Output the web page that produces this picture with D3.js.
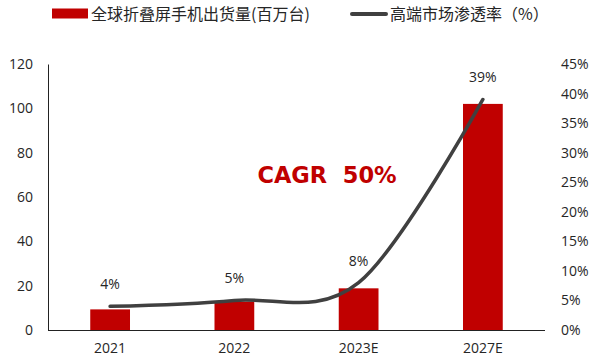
<!DOCTYPE html>
<html><head><meta charset="utf-8">
<script src="https://cdn.jsdelivr.net/npm/d3@7/dist/d3.min.js"></script>
<style>body{margin:0;background:#fff}svg{display:block}</style>
</head><body>
<svg id="c" width="595" height="361"></svg>
<script>
const categories = ["2021", "2022", "2023E", "2027E"];
const shipments = [9.3, 12.8, 18.8, 102];
const penetration = [4, 5, 8, 39];
const penetrationLabels = ["4%", "5%", "8%", "39%"];
const leftTicks = [0, 20, 40, 60, 80, 100, 120];
const rightTicks = [0, 5, 10, 15, 20, 25, 30, 35, 40, 45];
const legendBar = "全球折叠屏手机出货量(百万台)";
const legendLine = "高端市场渗透率（%）";
const annotation = "CAGR  50%";

const svg = d3.select("#c");
const L = 48, R = 545, T = 64, B = 330;
const numFont = "'Open Sans', sans-serif";
const cjkFont = "'Noto Sans CJK SC', sans-serif";
const red = "#C00000", gray = "#404040", txt = "#262626";
const fs = 14;

const x = d3.scaleBand().domain(categories).range([L, R]).paddingInner(0.68).paddingOuter(0.34);
const y = d3.scaleLinear().domain([0, 120]).range([B, T]);
const y2 = d3.scaleLinear().domain([0, 45]).range([B, T]);

// bars
svg.selectAll("rect.bar").data(categories).enter().append("rect")
  .attr("x", d => x(d)).attr("width", x.bandwidth())
  .attr("y", (d, i) => y(shipments[i])).attr("height", (d, i) => B - y(shipments[i]))
  .attr("fill", red);

// axes
const gl = svg.append("g").attr("transform", `translate(${L},0)`)
  .call(d3.axisLeft(y).tickValues(leftTicks).tickSize(0).tickPadding(15));
gl.select(".domain").attr("stroke", "#222").attr("stroke-width", 1);
gl.selectAll("text").attr("font-family", numFont).attr("font-size", fs).attr("fill", txt);

const gr = svg.append("g").attr("transform", `translate(${R},0)`)
  .call(d3.axisRight(y2).tickValues(rightTicks).tickSize(0).tickPadding(16).tickFormat(d => d + "%"));
gr.select(".domain").remove();
gr.selectAll("text").attr("font-family", numFont).attr("font-size", fs).attr("fill", txt);

const gb = svg.append("g").attr("transform", `translate(0,${B})`)
  .call(d3.axisBottom(x).tickSize(0).tickPadding(13));
gb.select(".domain").attr("stroke", "#222").attr("stroke-width", 1).attr("d", `M${L},0.5H${R}`);
gb.selectAll("text").attr("font-family", numFont).attr("font-size", fs).attr("fill", txt);

// line
const cx = d => x(d) + x.bandwidth() / 2;
const line = d3.line().x((d, i) => cx(categories[i])).y(d => y2(d)).curve(d3.curveCardinal.tension(0));
svg.append("path").datum(penetration).attr("d", line)
  .attr("fill", "none").attr("stroke", gray).attr("stroke-width", 3.5).attr("stroke-linecap", "round");

// labels
svg.selectAll("text.pl").data(penetration).enter().append("text")
  .attr("x", (d, i) => cx(categories[i])).attr("y", d => y2(d) - 22)
  .attr("dy", "0.35em").attr("text-anchor", "middle")
  .attr("font-family", numFont).attr("font-size", fs).attr("fill", txt)
  .text((d, i) => penetrationLabels[i]);

// annotation
svg.append("text").attr("x", 327).attr("y", 175).attr("dy", "0.36em").attr("text-anchor", "middle")
  .attr("font-family", "'DejaVu Sans', Verdana, sans-serif").attr("font-weight", "bold")
  .style("white-space", "pre").attr("xml:space", "preserve")
  .attr("font-size", 22.5).attr("fill", red).text(annotation);

// legend
svg.append("rect").attr("x", 52).attr("y", 8.5).attr("width", 36).attr("height", 10).attr("fill", red);
svg.append("text").attr("x", 91).attr("y", 14).attr("dy", "0.36em")
  .attr("font-family", cjkFont).attr("font-size", 16).attr("fill", txt).text(legendBar);
svg.append("line").attr("x1", 352).attr("x2", 386).attr("y1", 14).attr("y2", 14)
  .attr("stroke", gray).attr("stroke-width", 4).attr("stroke-linecap", "round");
svg.append("text").attr("x", 390).attr("y", 14).attr("dy", "0.36em")
  .attr("font-family", cjkFont).attr("font-size", 16).attr("fill", txt).text(legendLine);
</script>
</body></html>
